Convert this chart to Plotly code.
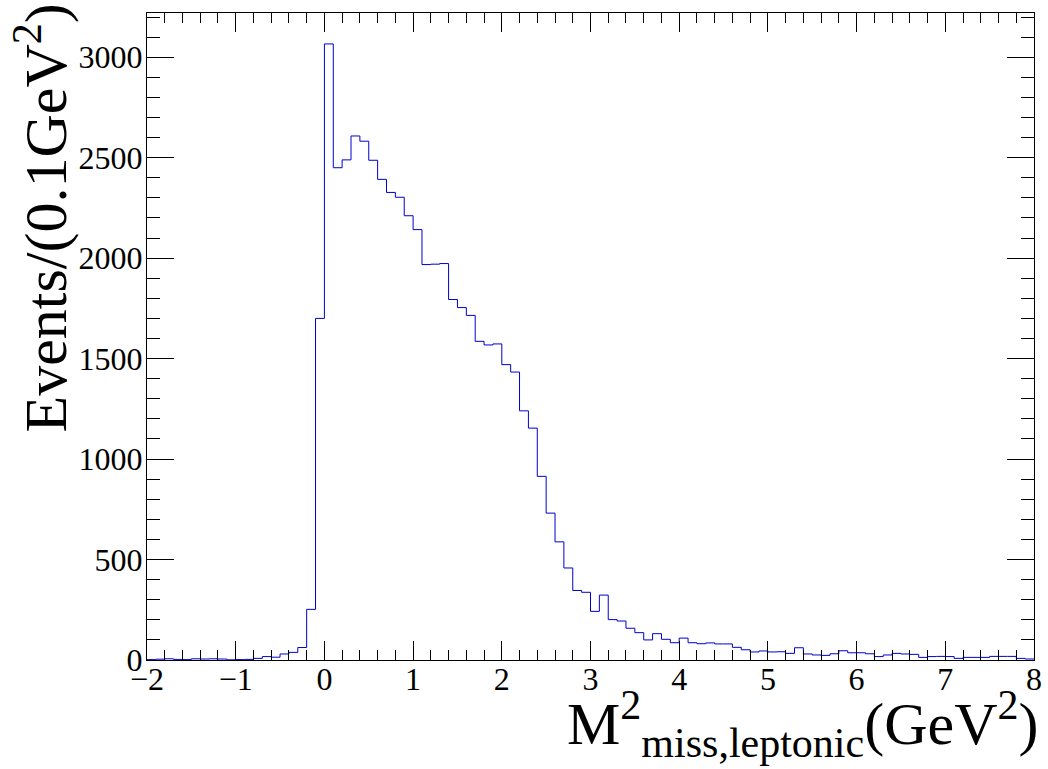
import numpy as np
import plotly.graph_objects as go

# Histogram: 100 bins of 0.1 GeV^2 from -2 to 8
bin_low_edge = -2.0
bin_width = 0.1
counts = [
    2, 4, 6, 3, 2, 6, 5, 6, 5, 1,
    2, 3, 8, 17, 14, 30, 38, 62, 252, 1700,
    3066, 2450, 2489, 2608, 2582, 2487, 2392, 2327, 2303, 2211,
    2142, 1968, 1970, 1973, 1794, 1754, 1715, 1586, 1568, 1573,
    1470, 1433, 1240, 1154, 914, 731, 588, 458, 346, 337,
    242, 323, 201, 194, 158, 136, 100, 131, 103, 86,
    109, 86, 81, 85, 80, 80, 63, 51, 40, 45,
    40, 41, 33, 61, 30, 25, 23, 31, 46, 36,
    36, 31, 17, 25, 33, 30, 28, 13, 17, 18,
    17, 8, 13, 13, 13, 18, 18, 18, 8, 5,
]
x_range = [-2, 8]
y_range = [0, 3220]
x_title = "M<sup>2</sup><sub>miss,leptonic</sub>(GeV<sup>2</sup>)"
y_title = "Events/(0.1GeV<sup>2</sup>)"

n = len(counts)
edges = bin_low_edge + bin_width * np.arange(n + 1)
yvals = list(counts) + [counts[-1]]

W, H = 1048, 769
ml, mr, mt, mb = 147, 14, 13, 109
pw, ph = W - ml - mr, H - mt - mb

fig = go.Figure()
fig.add_trace(go.Scatter(
    x=edges, y=yvals, mode="lines", line_shape="hv",
    line=dict(color="#0000cc", width=1), hoverinfo="skip", showlegend=False,
))

font = "Liberation Serif, Times New Roman, serif"
axis_common = dict(
    showline=True, linecolor="black", linewidth=1, mirror="allticks",
    ticks="inside", tickcolor="black", showgrid=False, zeroline=False,
    automargin=False,
    tickfont=dict(family=font, size=32, color="black"),
)
fig.update_xaxes(range=x_range, dtick=1, tick0=0, ticklen=19, tickwidth=1,
                 ticklabelstandoff=-9,
                 minor=dict(dtick=0.2, ticklen=10, ticks="inside", tickcolor="black", showgrid=False),
                 **axis_common)
fig.update_yaxes(range=y_range, dtick=500, tick0=0, ticklen=27, tickwidth=1,
                 ticklabelstandoff=-3,
                 minor=dict(dtick=100, ticklen=13, ticks="inside", tickcolor="black", showgrid=False),
                 **axis_common)

fig.add_annotation(text=x_title, xref="paper", yref="paper",
                   x=1.0 + 6 / pw, y=-(724 - (H - mb)) / ph,
                   xanchor="right", yanchor="middle", showarrow=False,
                   font=dict(family=font, size=60, color="black"))
fig.add_annotation(text=y_title, xref="paper", yref="paper",
                   x=(41 - ml) / pw, y=1 + (mt - 2) / ph,
                   xanchor="center", yanchor="top", textangle=-90, showarrow=False,
                   font=dict(family=font, size=60, color="black"))

fig.update_layout(width=W, height=H, margin=dict(l=ml, r=mr, t=mt, b=mb, autoexpand=False),
                  paper_bgcolor="white", plot_bgcolor="white")
fig.write_html("out.html", config={"displayModeBar": False},
               post_script="document.body.style.margin='0';document.body.style.overflow='hidden';")
